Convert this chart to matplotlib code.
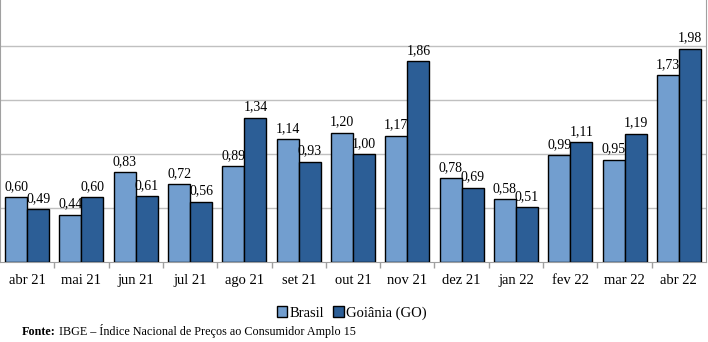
import matplotlib
matplotlib.use("Agg")
import matplotlib.pyplot as plt
import numpy as np

meses = ["abr 21", "mai 21", "jun 21", "jul 21", "ago 21", "set 21", "out 21",
         "nov 21", "dez 21", "jan 22", "fev 22", "mar 22", "abr 22"]
brasil = [0.60, 0.44, 0.83, 0.72, 0.89, 1.14, 1.20, 1.17, 0.78, 0.58, 0.99, 0.95, 1.73]
goiania = [0.49, 0.60, 0.61, 0.56, 1.34, 0.93, 1.00, 1.86, 0.69, 0.51, 1.11, 1.19, 1.98]

COR_BR = "#729ecf"
COR_GO = "#2c5e96"
plt.rcParams["font.family"] = ["Liberation Serif", "DejaVu Serif"]

fig = plt.figure(figsize=(7.08, 3.42), dpi=100)
ax = fig.add_axes([0.0, 0.234, 706 / 708, 0.766])

x = np.arange(len(meses))
w = 0.405
b1 = ax.bar(x - w / 2, brasil, w, color=COR_BR, edgecolor="black", linewidth=1, label="Brasil", zorder=3)
b2 = ax.bar(x + w / 2, goiania, w, color=COR_GO, edgecolor="black", linewidth=1, label="Goiânia (GO)", zorder=3)

# rótulos de valor com vírgula decimal
for bars, vals in ((b1, brasil), (b2, goiania)):
    for r, v in zip(bars, vals):
        ax.annotate(f"{v:.2f}".replace(".", ","), (r.get_x() + r.get_width() / 2, v),
                    xytext=(0, 3), textcoords="offset points", ha="center", va="bottom",
                    fontsize=10, zorder=4)

ax.set_xlim(-0.5, len(meses) - 0.5)
ax.set_ylim(0, 2.43)
ax.set_yticks([0.5, 1.0, 1.5, 2.0])
ax.yaxis.grid(True, color="#c0c0c0", linewidth=1, zorder=0)
ax.tick_params(axis="y", left=False, labelleft=False)
ax.set_xticks(x)
ax.set_xticklabels(meses, fontsize=10.5)
ax.tick_params(axis="x", which="major", length=0, pad=9)
ax.set_xticks(np.arange(len(meses) - 1) + 0.5, minor=True)
ax.tick_params(axis="x", which="minor", length=4, color="#a0a0a0", width=1)
ax.spines["top"].set_visible(False)
for s in ("left", "right", "bottom"):
    ax.spines[s].set_color("#a0a0a0")

fig.legend(handles=[b1, b2], loc="center", bbox_to_anchor=(352 / 708, 1 - 313 / 342),
           ncol=2, frameon=False, fontsize=10.5, handlelength=0.7, handleheight=0.7,
           handletextpad=0.2, columnspacing=0.6, borderaxespad=0)

# fonte: parte em negrito seguida do texto normal na mesma linha de base
y_fonte = 1 - 335 / 342
t1 = fig.text(22 / 708, y_fonte, "Fonte:", fontsize=8.7, fontweight="bold", va="baseline")
fig.canvas.draw()
x_fim = t1.get_window_extent().x1 / fig.bbox.width
fig.text(x_fim + 3 / 708, y_fonte, "IBGE – Índice Nacional de Preços ao Consumidor Amplo 15",
         fontsize=8.7, va="baseline")

fig.savefig("out.png", dpi=100)
